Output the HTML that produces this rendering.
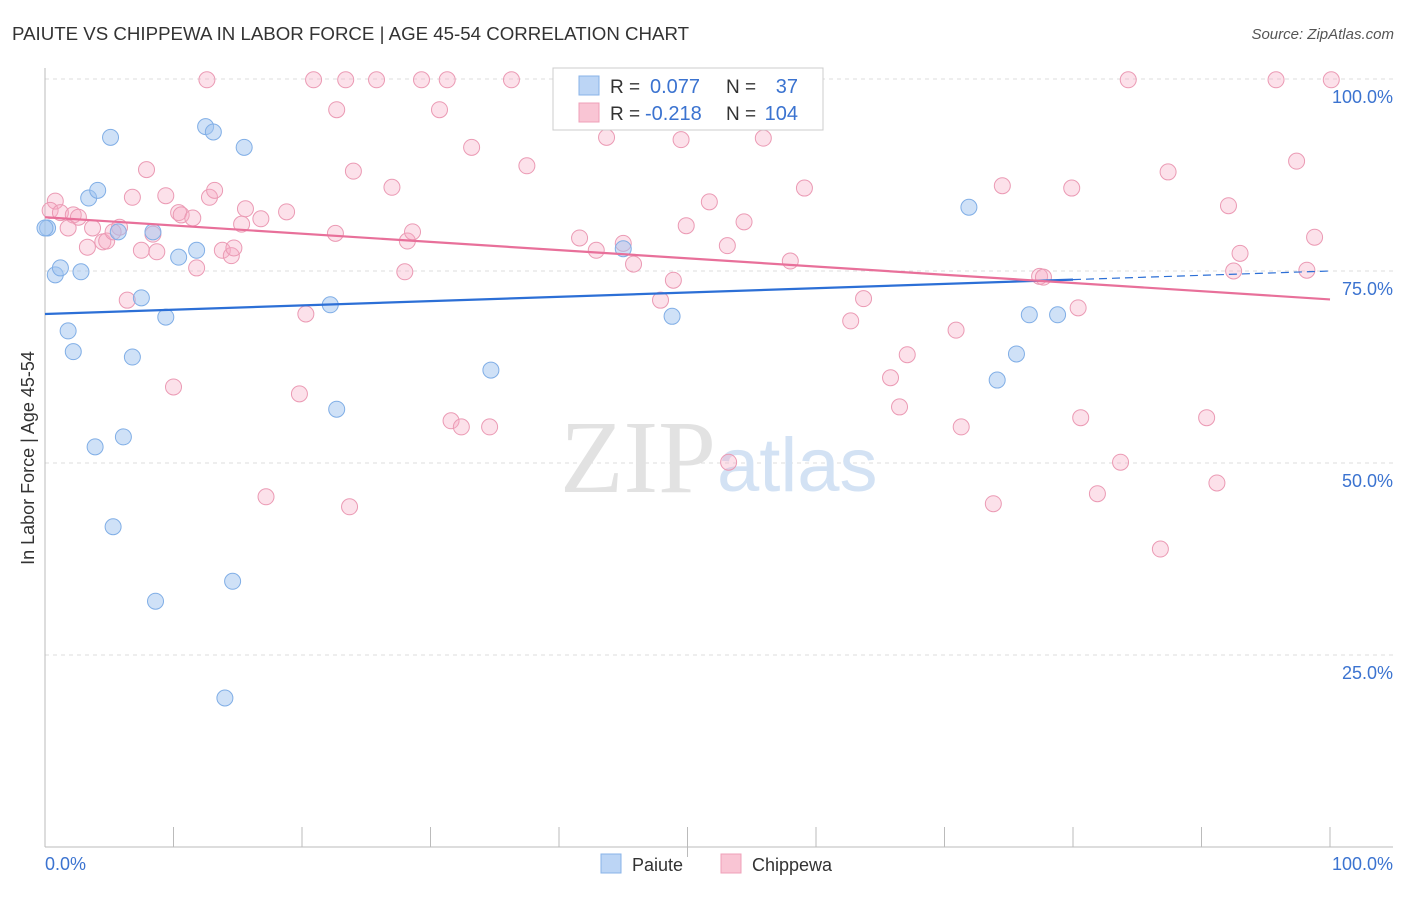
<!DOCTYPE html>
<html><head><meta charset="utf-8"><style>
body{margin:0;background:#fff;font-family:"Liberation Sans",sans-serif;}
svg text{font-family:"Liberation Sans",sans-serif;}
</style></head><body>
<svg id="chart" width="1406" height="892" viewBox="0 0 1406 892">
<text x="12" y="40" font-size="18.7" fill="#333">PAIUTE VS CHIPPEWA IN LABOR FORCE | AGE 45-54 CORRELATION CHART</text>
<text x="1394" y="39" font-size="15" fill="#555" text-anchor="end" font-style="italic">Source: ZipAtlas.com</text>
<text x="34" y="458" font-size="18" fill="#333" text-anchor="middle" transform="rotate(-90 34 458)">In Labor Force | Age 45-54</text>
<g id="grid"></g>
<text x="716" y="492" font-size="104" fill="#e2e2e2" text-anchor="end" style="font-family:'Liberation Serif',serif">ZIP</text>
<text x="717" y="491" font-size="76" fill="#d3e2f4">atlas</text>
<g id="points"></g>
<g id="trends"></g>
<g>
<rect x="553" y="68" width="270" height="62" fill="#fff" stroke="#ccc"/>
<rect x="579" y="76" width="20" height="19" fill="#bcd5f5" stroke="#88b3e8"/>
<rect x="579" y="103" width="20" height="19" fill="#f9c5d4" stroke="#efa0b8"/>
<text x="610" y="93" font-size="19" fill="#333">R = </text><text x="650" y="93" font-size="20" fill="#3b73d0">0.077</text>
<text x="726" y="93" font-size="19" fill="#333">N = </text><text x="798" y="93" font-size="20" fill="#3b73d0" text-anchor="end">37</text>
<text x="610" y="120" font-size="19" fill="#333">R = </text><text x="645" y="120" font-size="20" fill="#3b73d0">-0.218</text>
<text x="726" y="120" font-size="19" fill="#333">N = </text><text x="798" y="120" font-size="20" fill="#3b73d0" text-anchor="end">104</text>
</g>
<g>
<rect x="601" y="854" width="20" height="19" fill="#bcd5f5" stroke="#88b3e8"/>
<text x="632" y="871" font-size="18" fill="#333">Paiute</text>
<rect x="721" y="854" width="20" height="19" fill="#f9c5d4" stroke="#efa0b8"/>
<text x="752" y="871" font-size="18" fill="#333">Chippewa</text>
</g>
</svg>
<script>
const blueX=[0.2,0.8,1.2,2.8,1.8,2.2,3.4,4.1,5.1,5.7,7.5,6.8,3.9,6.1,5.3,8.6,8.4,9.4,10.4,11.8,12.5,13.1,15.5,14.0,14.6,22.2,22.7,34.7,45.0,45.6,48.8,71.9,74.1,75.6,76.6,78.8,0.0];
const blueY=[80.6,74.5,75.4,74.9,67.2,64.5,84.5,85.5,92.4,80.1,71.5,63.8,52.1,53.4,41.7,32.0,80.1,69.0,76.8,77.7,93.8,93.1,91.1,19.4,34.6,70.6,57.0,62.1,77.9,99.9,69.1,83.3,60.8,64.2,69.3,69.3,80.6];
const pinkX=[0.8,0.4,1.2,2.2,2.6,1.8,3.3,3.7,4.5,4.8,5.8,5.3,6.4,6.8,7.5,7.9,8.7,8.4,9.4,10.0,10.4,10.6,11.5,11.8,12.6,12.8,13.2,13.8,14.5,14.7,15.3,15.6,16.8,17.2,18.8,19.8,20.3,20.9,22.6,22.7,23.4,23.7,24.0,25.8,27.0,28.0,28.2,28.6,29.3,30.7,31.3,31.6,32.4,33.2,34.6,36.3,37.5,41.6,42.9,43.7,45.0,45.8,47.9,48.9,49.5,49.9,51.7,53.1,53.2,54.4,55.9,58.0,59.1,62.7,63.7,65.8,66.5,67.1,70.9,71.3,73.8,74.5,77.4,77.7,79.9,80.4,80.6,81.9,83.7,84.3,86.8,87.4,90.4,91.2,92.1,92.5,93.0,95.8,97.4,98.2,98.8,100.1];
const pinkY=[84.1,82.9,82.6,82.3,82.0,80.6,78.1,80.6,78.8,78.9,80.7,80.1,71.2,84.6,77.7,88.2,77.5,79.8,84.8,59.9,82.6,82.3,81.9,75.4,99.9,84.6,85.5,77.7,77.0,78.0,81.1,83.1,81.8,45.6,82.7,59.0,69.4,99.9,79.9,96.0,99.9,44.3,88.0,99.9,85.9,74.9,78.9,80.1,99.9,96.0,99.9,55.5,54.7,91.1,54.7,99.9,88.7,79.3,77.7,92.4,78.6,75.9,71.2,73.8,92.1,80.9,84.0,78.3,50.1,81.4,92.3,76.3,85.8,68.5,71.4,61.1,57.3,64.1,67.3,54.7,44.7,86.1,74.3,74.2,85.8,70.2,55.9,46.0,50.1,99.9,38.8,87.9,55.9,47.4,83.5,75.0,77.3,99.9,89.3,75.1,79.4,99.9];
const blueTrend=[69.4,75.0]; const blueSolidEnd=80;
const pinkTrend=[82.0,71.3];
const yTicks=[100,75,50,25];
const yTickLabels=["100.0%","75.0%","50.0%","25.0%"];
const xTicks=[0,10,20,30,40,50,60,70,80,90,100];

const NS="http://www.w3.org/2000/svg";
const sx=v=>45+v*12.85, sy=v=>847-v*7.68;
function mk(t,a,p){const e=document.createElementNS(NS,t);for(const k in a)e.setAttribute(k,a[k]);p.appendChild(e);return e;}
const grid=document.getElementById('grid');
yTicks.forEach((t,i)=>{
 const l=mk('line',{x1:45,x2:1393,y1:sy(t),y2:sy(t),stroke:'#ddd','stroke-dasharray':'4,4'},grid);
 
 
 const tx=mk('text',{x:1393,y:sy(t)+24,'font-size':18,fill:'#3b73d0','text-anchor':'end'},grid);
 tx.textContent=yTickLabels[i];
 
 
});
const ax=mk('line',{x1:45,x2:45,y1:68,y2:847,stroke:'#bbb'},grid);


const bx=mk('line',{x1:45,x2:1393,y1:847,y2:847,stroke:'#bbb'},grid);


xTicks.forEach(t=>{
 const l=mk('line',{x1:sx(t),x2:sx(t),y1:827,y2:t===50?857:847,stroke:'#bbb'},grid);
 
 
});
const xl=mk('text',{x:45,y:870,'font-size':18,fill:'#3b73d0'},grid);xl.textContent='0.0%';


const xr=mk('text',{x:1393,y:870,'font-size':18,fill:'#3b73d0','text-anchor':'end'},grid);xr.textContent='100.0%';



const pts=document.getElementById('points');
pinkX.forEach((x,i)=>{
 const c=mk('circle',{cx:sx(x),cy:sy(pinkY[i]),r:8,fill:'rgba(245,170,195,0.35)',stroke:'#eb9ab4','stroke-width':1},pts);
 
 
});
blueX.forEach((x,i)=>{
 const c=mk('circle',{cx:sx(x),cy:sy(blueY[i]),r:8,fill:'rgba(160,195,240,0.5)',stroke:'#80aee6','stroke-width':1},pts);
 
 
});
const tr=document.getElementById('trends');
const by=x=>blueTrend[0]+(blueTrend[1]-blueTrend[0])*x/100;
const b1=mk('line',{x1:sx(0),y1:sy(by(0)),x2:sx(blueSolidEnd),y2:sy(by(blueSolidEnd)),stroke:'#2c6fd6','stroke-width':2.2},tr);


const b2=mk('line',{x1:sx(blueSolidEnd),y1:sy(by(blueSolidEnd)),x2:sx(100),y2:sy(by(100)),stroke:'#2c6fd6','stroke-width':1.2,'stroke-dasharray':'8,5'},tr);


const p1=mk('line',{x1:sx(0),y1:sy(pinkTrend[0]),x2:sx(100),y2:sy(pinkTrend[1]),stroke:'#e8709a','stroke-width':2.2},tr);


</script>
</body></html>
